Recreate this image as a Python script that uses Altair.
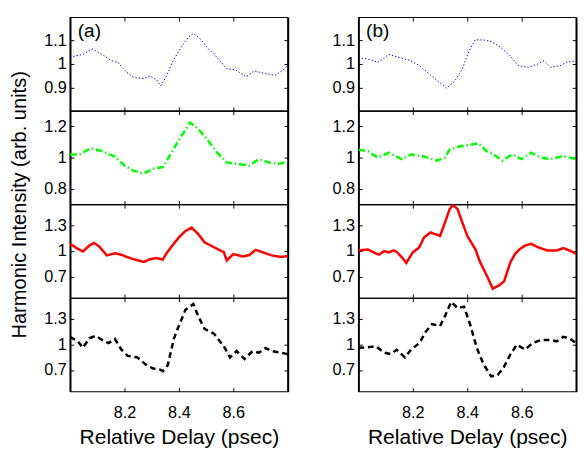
import altair as alt
import pandas as pd

# ---------------- data ----------------
a1_x = [8.0, 8.018, 8.047, 8.082, 8.118, 8.153, 8.176, 8.206, 8.235, 8.271, 8.294, 8.318, 8.333, 8.353, 8.376, 8.406, 8.435, 8.453, 8.476, 8.506, 8.541, 8.576, 8.606, 8.647, 8.676, 8.718, 8.753, 8.782, 8.8]
a1_y = [1.027, 1.034, 1.041, 1.064, 1.041, 1.014, 1.007, 0.966, 0.942, 0.938, 0.949, 0.932, 0.907, 0.945, 1.007, 1.068, 1.116, 1.13, 1.11, 1.068, 1.027, 0.979, 0.977, 0.945, 0.970, 0.959, 0.952, 0.973, 0.997]

a2_x = [8.0, 8.035, 8.076, 8.118, 8.165, 8.2, 8.235, 8.271, 8.306, 8.341, 8.365, 8.4, 8.441, 8.471, 8.506, 8.541, 8.576, 8.612, 8.659, 8.694, 8.729, 8.765, 8.8]
a2_y = [1.02, 1.02, 1.061, 1.041, 1.006, 0.949, 0.914, 0.898, 0.929, 0.939, 1.01, 1.112, 1.224, 1.184, 1.112, 1.031, 0.969, 0.959, 0.949, 0.99, 0.969, 0.959, 0.973]

a3_x = [8.0, 8.024, 8.047, 8.071, 8.088, 8.106, 8.135, 8.165, 8.188, 8.206, 8.235, 8.271, 8.294, 8.318, 8.341, 8.353, 8.376, 8.4, 8.424, 8.447, 8.471, 8.494, 8.529, 8.565, 8.576, 8.6, 8.635, 8.659, 8.682, 8.706, 8.741, 8.776, 8.8]
a3_y = [1.085, 1.035, 0.996, 1.065, 1.096, 1.058, 0.95, 0.975, 0.958, 0.935, 0.904, 0.873, 0.904, 0.919, 0.9, 0.969, 1.065, 1.162, 1.238, 1.277, 1.2, 1.104, 1.046, 0.988, 0.89, 0.965, 0.938, 0.954, 1.015, 0.988, 0.95, 0.931, 0.942]

a4_x = [8.0, 8.029, 8.047, 8.071, 8.094, 8.118, 8.141, 8.165, 8.188, 8.212, 8.247, 8.282, 8.306, 8.329, 8.341, 8.359, 8.382, 8.4, 8.424, 8.453, 8.471, 8.494, 8.529, 8.565, 8.588, 8.612, 8.641, 8.671, 8.694, 8.718, 8.741, 8.776, 8.8]
a4_y = [1.093, 1.037, 0.963, 1.075, 1.104, 1.056, 1.019, 1.067, 0.944, 0.869, 0.851, 0.757, 0.72, 0.709, 0.69, 0.76, 1.075, 1.224, 1.41, 1.478, 1.336, 1.187, 1.13, 0.981, 0.851, 0.925, 0.832, 0.925, 0.907, 0.963, 0.925, 0.907, 0.888]

b1_x = [8.0, 8.035, 8.071, 8.112, 8.153, 8.188, 8.224, 8.259, 8.294, 8.324, 8.353, 8.382, 8.406, 8.429, 8.459, 8.488, 8.518, 8.553, 8.588, 8.624, 8.659, 8.682, 8.706, 8.741, 8.765, 8.8]
b1_y = [1.027, 1.021, 1.007, 1.041, 1.027, 1.016, 0.993, 0.959, 0.925, 0.897, 0.925, 0.979, 1.055, 1.103, 1.103, 1.096, 1.075, 1.041, 0.993, 0.986, 1.0, 1.014, 0.986, 0.993, 1.007, 1.014]

b2_x = [8.0, 8.035, 8.071, 8.112, 8.159, 8.194, 8.235, 8.288, 8.318, 8.335, 8.371, 8.412, 8.441, 8.471, 8.506, 8.529, 8.565, 8.6, 8.635, 8.671, 8.706, 8.753, 8.8]
b2_y = [1.051, 1.041, 1.0, 1.031, 0.99, 1.02, 1.01, 0.98, 1.0, 1.051, 1.071, 1.082, 1.092, 1.041, 1.01, 0.98, 1.02, 0.99, 1.031, 1.0, 0.99, 1.01, 0.99]

b3_x = [8.0, 8.035, 8.059, 8.076, 8.094, 8.112, 8.129, 8.141, 8.159, 8.176, 8.2, 8.224, 8.241, 8.265, 8.282, 8.3, 8.318, 8.335, 8.347, 8.365, 8.382, 8.4, 8.429, 8.447, 8.471, 8.494, 8.518, 8.535, 8.559, 8.576, 8.594, 8.612, 8.635, 8.659, 8.694, 8.729, 8.753, 8.776, 8.8]
b3_y = [1.008, 1.02, 0.98, 0.958, 1.0, 0.985, 1.008, 0.99, 0.93, 0.862, 0.985, 1.046, 1.16, 1.219, 1.2, 1.18, 1.335, 1.49, 1.546, 1.49, 1.335, 1.18, 1.027, 0.873, 0.72, 0.558, 0.6, 0.642, 0.873, 0.969, 1.027, 1.065, 1.085, 1.046, 1.008, 1.008, 1.035, 1.008, 0.969]

b4_x = [8.0, 8.035, 8.065, 8.094, 8.118, 8.141, 8.171, 8.194, 8.224, 8.247, 8.271, 8.3, 8.318, 8.341, 8.365, 8.388, 8.412, 8.435, 8.459, 8.488, 8.512, 8.535, 8.559, 8.582, 8.612, 8.641, 8.671, 8.706, 8.729, 8.753, 8.776, 8.8]
b4_y = [0.963, 0.97, 0.981, 0.907, 0.89, 0.94, 0.85, 0.944, 1.019, 1.15, 1.243, 1.22, 1.336, 1.504, 1.43, 1.448, 1.224, 0.963, 0.776, 0.627, 0.645, 0.739, 0.888, 1.0, 0.944, 1.019, 1.056, 1.056, 1.04, 1.093, 1.075, 1.019]

x_domain = [8.0, 8.8]
x_ticks = [8.2, 8.4, 8.6]
row_domains = [[0.8, 1.2], [0.7, 1.3], [0.45, 1.55], [0.45, 1.55]]
row_ticks = [[0.9, 1, 1.1], [0.8, 1, 1.2], [0.7, 1, 1.3], [0.7, 1, 1.3]]
panel_labels = ["(a)", "(b)"]

# ---------------- styling ----------------
FONT = "Liberation Sans"
W, H = 228, 98
IN = {"expr": "-4"}
styles = [
    dict(color="#0000ff", strokeWidth=1.0, strokeDash=[1.5, 2]),
    dict(color="#00ff00", strokeWidth=2.6, strokeDash=[7, 3, 1.5, 3]),
    dict(color="#ff0000", strokeWidth=2.6),
    dict(color="#000000", strokeWidth=2.6, strokeDash=[6, 4]),
]


def cell(xs, ys, row, label, show_x, show_ytitle):
    df = pd.DataFrame({"x": xs, "y": ys})
    xs_ = alt.Scale(domain=x_domain, nice=False, zero=False)
    ys_ = alt.Scale(domain=row_domains[row], nice=False, zero=False)
    xaxis_kw = dict(values=x_ticks, format=".1f", tickSize=IN, tickColor="black",
                    domain=False, grid=False, labels=show_x,
                    labelFont=FONT, labelFontSize=17, labelColor="black", labelPadding=18,
                    titleFont=FONT, titleFontSize=22, titleFontWeight="normal",
                    titleColor="black", titlePadding=7)
    if show_x:
        xaxis = alt.Axis(title="Relative Delay (psec)", **xaxis_kw)
    else:
        xaxis = alt.Axis(title=None, **xaxis_kw)
    yaxis_kw = dict(values=row_ticks[row], tickSize=IN, tickColor="black",
                    domain=True, domainColor="black", domainWidth=2, grid=False,
                    labelFont=FONT, labelFontSize=17, labelColor="black", labelPadding=8,
                    labelExpr="datum.value == 1 ? '1' : format(datum.value, '.1f')")
    if show_ytitle:
        yaxis = alt.Axis(title="Harmonic Intensity (arb. units)", titleFont=FONT,
                         titleFontSize=21, titleFontWeight="normal", titleColor="black",
                         titlePadding=15, titleY=H, **yaxis_kw)
    else:
        yaxis = alt.Axis(title=None, **yaxis_kw)

    line = alt.Chart(df).mark_line(clip=True, **styles[row]).encode(
        x=alt.X("x:Q", scale=xs_, axis=xaxis),
        y=alt.Y("y:Q", scale=ys_, axis=yaxis),
    )
    ghost = alt.Chart(df).mark_line(strokeOpacity=0, clip=True).encode(
        x=alt.X("x:Q", scale=xs_, axis=alt.Axis(orient="top", values=x_ticks, labels=False,
                                                 tickSize=IN, tickColor="black", domain=False,
                                                 grid=False, title=None)),
        y=alt.Y("y:Q", scale=ys_, axis=alt.Axis(orient="right", values=row_ticks[row],
                                                 labels=False, tickSize=IN, tickColor="black",
                                                 domain=True, domainColor="black", domainWidth=2,
                                                 grid=False, title=None)),
    )
    layers = [line, ghost]
    if label:
        txt = alt.Chart(pd.DataFrame({"t": [label]})).mark_text(
            align="left", baseline="middle", font=FONT, fontSize=20, color="black"
        ).encode(x=alt.value(8), y=alt.value(15), text="t:N")
        layers.append(txt)
    return alt.layer(*layers).resolve_axis(x="independent", y="independent").properties(
        width=W, height=H)


colA = alt.vconcat(
    cell(a1_x, a1_y, 0, panel_labels[0], False, False),
    cell(a2_x, a2_y, 1, None, False, True),
    cell(a3_x, a3_y, 2, None, False, False),
    cell(a4_x, a4_y, 3, None, True, False),
    spacing=0, bounds="flush",
)
colB = alt.vconcat(
    cell(b1_x, b1_y, 0, panel_labels[1], False, False),
    cell(b2_x, b2_y, 1, None, False, False),
    cell(b3_x, b3_y, 2, None, False, False),
    cell(b4_x, b4_y, 3, None, True, False),
    spacing=0, bounds="flush",
)

chart = alt.hconcat(colA, colB, spacing=43).configure_view(
    stroke="black", strokeWidth=1.2
).properties(padding={"top": -3, "left": 0, "right": 0, "bottom": 0}, background="white")

chart.save("out.html", embed_options={"renderer": "svg", "actions": False})
